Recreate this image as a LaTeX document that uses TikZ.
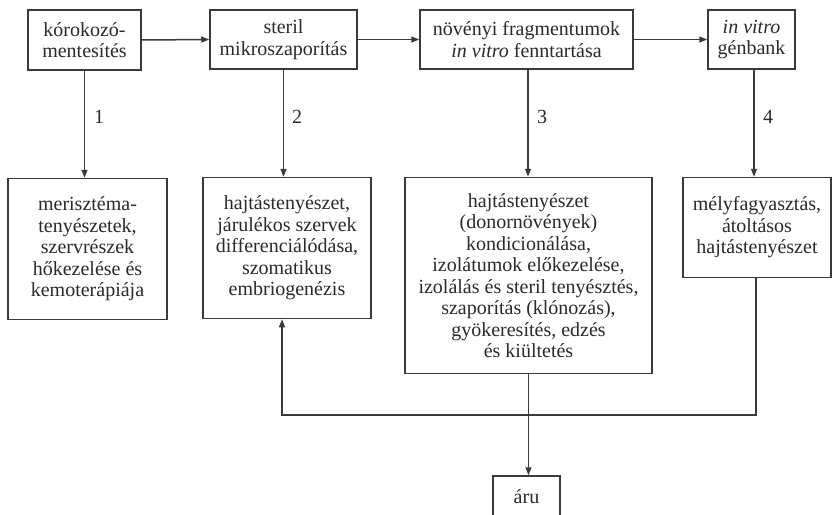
\documentclass[tikz,border=0pt]{standalone}
\usepackage{fontspec}
\setmainfont{Liberation Serif}
\usetikzlibrary{arrows.meta}
\definecolor{ink}{HTML}{2A2A2A}
\definecolor{linec}{HTML}{3A3A3A}
\tikzset{
  box/.style={draw=linec, line width=1.5pt, inner sep=0pt, align=center, text=ink,
    font=\fontsize{20}{21.5}\selectfont},
  arr/.style={draw=linec, line width=1.5pt, -{Triangle[length=8pt,width=6pt]}},
  num/.style={text=ink, inner sep=0pt, font=\fontsize{20}{21.5}\selectfont}
}
\begin{document}
\begin{tikzpicture}[x=1pt,y=-1pt]
\clip (0,0) rectangle (832,514);
\fill[white] (0,0) rectangle (832,514);
% top row
\node[box, minimum width=113pt, minimum height=60pt] (b1) at (84.5,40) {kórokozó-\\mentesítés};
\node[box, minimum width=147pt, minimum height=59pt] (b2) at (283.5,39.5) {steril\\mikroszaporítás};
\node[box, minimum width=213pt, minimum height=59pt] (b3) at (526.5,39.5) {növényi fragmentumok\\\textit{in vitro} fenntartása};
\node[box, minimum width=87pt, minimum height=59pt] (b4) at (751.5,39.5) {\textit{in vitro}\\génbank};
% bottom row
\node[box, minimum width=159pt, minimum height=141pt] (bA) at (87.5,249) {merisztéma-\\tenyészetek,\\szervrészek\\hőkezelése és\\kemoterápiája};
\node[box, minimum width=168pt, minimum height=141pt] (bB) at (287,248) {hajtástenyészet,\\járulékos szervek\\differenciálódása,\\szomatikus\\embriogenézis};
\node[box, minimum width=247pt, minimum height=196pt] (bC) at (528.5,275.5) {hajtástenyészet\\(donornövények)\\kondicionálása,\\izolátumok előkezelése,\\izolálás és steril tenyésztés,\\szaporítás (klónozás),\\gyökeresítés, edzés\\és kiültetés};
\node[box, minimum width=148pt, minimum height=100pt] (bD) at (757,227.5) {mélyfagyasztás,\\átoltásos\\hajtástenyészet};
\node[box, minimum width=67pt, minimum height=42pt] (aru) at (526.5,497) {áru};
% horizontal arrows
\draw[arr] (b1.east) -- (b2.west);
\draw[arr] (b2.east) -- (b3.west);
\draw[arr] (b3.east) -- (b4.west);
% vertical arrows
\draw[arr] (b1.south) -- (b1.south |- bA.north);
\draw[arr] (b2.south) -- (b2.south |- bB.north);
\draw[arr] ([xshift=1.5pt]b3.south) -- ([xshift=1.5pt]b3.south |- bC.north);
\draw[arr] ([xshift=2.5pt]b4.south) -- ([xshift=2.5pt]b4.south |- bD.north);
% numbers
\node[num] (n1) at (99,117) {1};
\node[num] (n2) at (297,117) {2};
\node[num] (n3) at (542,117) {3};
\node[num] (n4) at (768,117) {4};
% feedback and product
\coordinate (fb) at (282,415);
\draw[arr] ([xshift=-1pt]bD.south) |- (fb) -- (fb |- bB.south);
\draw[arr] (bC.south) -- (bC.south |- aru.north);
\end{tikzpicture}
\end{document}
